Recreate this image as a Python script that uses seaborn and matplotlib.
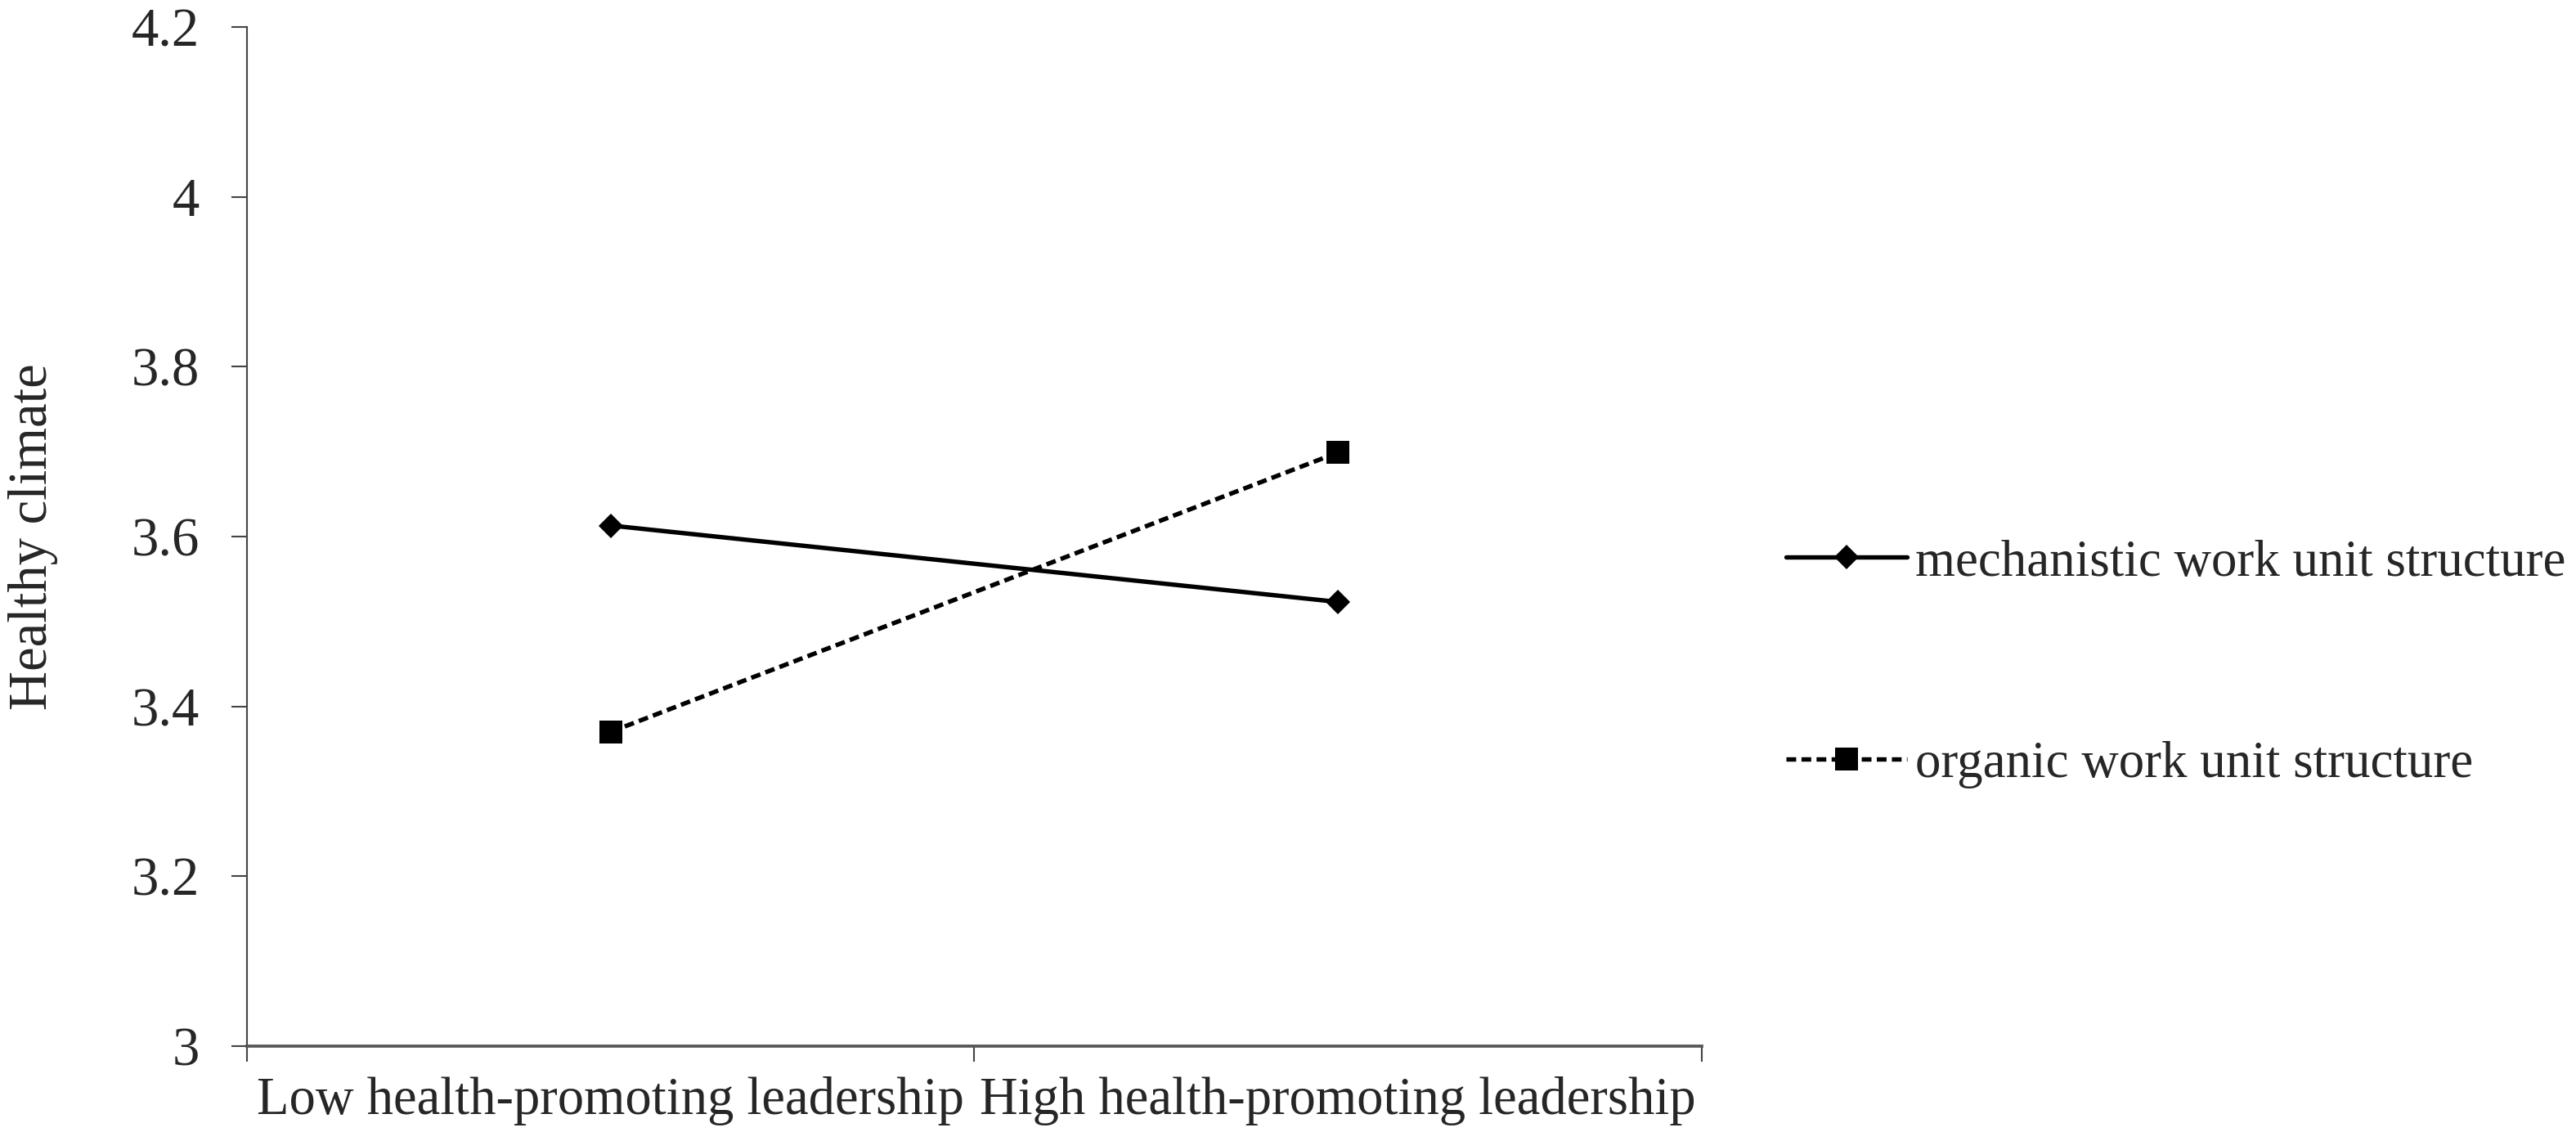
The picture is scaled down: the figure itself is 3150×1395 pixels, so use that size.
import matplotlib
matplotlib.use("Agg")
import matplotlib.pyplot as plt
import seaborn as sns
import pandas as pd

# ── Data ─────────────────────────────────────────────────────────────────────
categories = ["Low health-promoting leadership", "High health-promoting leadership"]
mechanistic = [3.613, 3.523]
organic = [3.370, 3.699]
series_names = ["mechanistic work unit structure", "organic work unit structure"]
y_ticks = [3, 3.2, 3.4, 3.6, 3.8, 4, 4.2]
y_tick_labels = ["3", "3.2", "3.4", "3.6", "3.8", "4", "4.2"]

sns.set_theme(style="white")
plt.rcParams["font.family"] = ["Liberation Serif", "DejaVu Serif"]

fig = plt.figure(figsize=(10.5, 4.65), dpi=300)
ax = fig.add_axes([0.0959, 0.0832, 0.5647, 0.8931])

sns.lineplot(x=categories, y=mechanistic, ax=ax, sort=False, color="black",
             linewidth=1.3, linestyle="-", marker="D", markersize=5.2,
             markeredgewidth=0, label=series_names[0])
sns.lineplot(x=categories, y=organic, ax=ax, sort=False, color="black",
             linewidth=1.3, dashes=(2.2, 1.2), marker="s", markersize=6.8,
             markeredgewidth=0, label=series_names[1])

ax.set_xlim(-0.5, 1.5)
ax.set_ylim(3, 4.2)
ax.set_yticks(y_ticks)
ax.set_yticklabels(y_tick_labels)
ax.set_xticks([0, 1])
ax.set_xticklabels(categories)
ax.set_xticks([-0.5, 0.5, 1.5], minor=True)

for side in ["top", "right"]:
    ax.spines[side].set_visible(False)
ax.spines["left"].set_color("#444444")
ax.spines["left"].set_linewidth(0.5)
ax.spines["bottom"].set_color("#555555")
ax.spines["bottom"].set_linewidth(0.9)

ax.tick_params(axis="y", which="major", direction="out", length=4.5, width=0.5,
               color="#444444", labelsize=16, pad=9.5, left=True)
ax.tick_params(axis="x", which="major", length=0, labelsize=15.5, pad=9)
ax.tick_params(axis="x", which="minor", direction="out", length=4.5, width=0.5,
               color="#444444", bottom=True)

ax.set_xlabel("")
ax.set_ylabel("Healthy climate", fontsize=16)
ax.yaxis.set_label_coords(-0.13, 0.5)

handles, labels = ax.get_legend_handles_labels()
ax.legend_.remove()
fig.legend(handles, labels, loc="center left", bbox_to_anchor=(0.6855, 0.418),
           frameon=False, fontsize=15.1, handlelength=2.35, handletextpad=0.15,
           labelspacing=3.0, borderaxespad=0)

plt.savefig("out.png", dpi=300)
plt.close()
